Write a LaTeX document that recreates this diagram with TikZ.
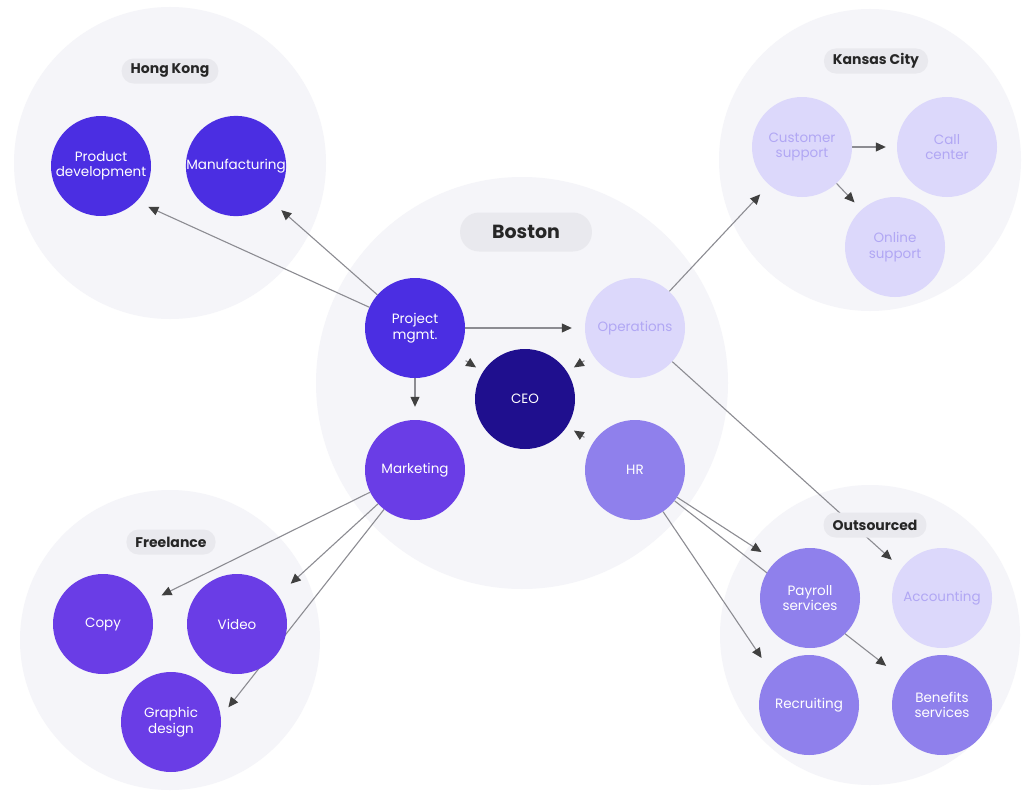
\documentclass[tikz,border=0pt]{standalone}
\usepackage{fontspec}
\setmainfont{Poppins}
\usetikzlibrary{arrows.meta}
\definecolor{royal}{HTML}{4B2EE2}
\definecolor{grape}{HTML}{6A3DE6}
\definecolor{navy}{HTML}{1F0F8E}
\definecolor{lilac}{HTML}{8F80EC}
\definecolor{pale}{HTML}{DCD8FB}
\definecolor{paletext}{HTML}{B1A7F4}
\definecolor{zonefill}{HTML}{F5F5F9}
\definecolor{tagfill}{HTML}{E9E9EE}
\definecolor{linkgray}{HTML}{8C8C92}
\pgfdeclarelayer{zones}
\pgfdeclarelayer{links}
\pgfsetlayers{zones,links,main}
\tikzset{
  unit/.style={circle,minimum size=100pt,inner sep=0pt,align=center,text=white,
    font=\fontsize{13.5}{15.5}\selectfont},
  royalunit/.style={unit,fill=royal},
  grapeunit/.style={unit,fill=grape},
  lilacunit/.style={unit,fill=lilac},
  paleunit/.style={unit,fill=pale,text=paletext},
  zone/.style={circle,fill=zonefill,inner sep=0pt},
  tag/.style={fill=tagfill,rounded corners=12pt,inner xsep=9pt,inner ysep=0pt,
    minimum height=25pt,text=black!85,font=\bfseries\fontsize{14}{16}\selectfont},
  link/.style={draw=linkgray,line width=1.1pt,shorten >=13pt,
    -{Triangle[length=10pt,width=9pt,color=black!75]}},
  stub/.style={link,shorten >=8pt,shorten <=10pt}
}
\begin{document}
\begin{tikzpicture}[x=1pt,y=-1pt]
\useasboundingbox (0,0) rectangle (1024,792);
\begin{pgfonlayer}{zones}
\fill[white] (0,0) rectangle (1024,792);
\node[zone,minimum size=312pt] (hkzone) at (170,163) {};
\node[zone,minimum size=302pt] (kczone) at (870,160) {};
\node[zone,minimum size=412pt] (bozone) at (522,383) {};
\node[zone,minimum size=300pt] (flzone) at (170,640) {};
\node[zone,minimum size=300pt] (oszone) at (870,635) {};
\end{pgfonlayer}
% places
\node[tag] (hktag) at (170,71) {Hong Kong};
\node[tag] (kctag) at (876,61) {Kansas City};
\node[tag,font=\bfseries\fontsize{19}{21}\selectfont,inner xsep=32pt,minimum height=39pt,rounded corners=19pt] (botag) at (526,232) {Boston};
\node[tag] (fltag) at (171,542) {Freelance};
\node[tag] (ostag) at (875,525) {Outsourced};
% units
\node[royalunit] (proddev) at (101,166) {Product\\development};
\node[royalunit] (manuf) at (236,166) {Manufacturing};
\node[paleunit] (custsup) at (802,147) {Customer\\support};
\node[paleunit] (callc) at (947,147) {Call\\center};
\node[paleunit] (online) at (895,247) {Online\\support};
\node[royalunit] (pm) at (415,328) {Project\\mgmt.};
\node[paleunit] (ops) at (635,328) {Operations};
\node[unit,fill=navy] (ceo) at (525,399) {CEO};
\node[grapeunit] (mkt) at (415,470) {Marketing};
\node[lilacunit] (hr) at (635,470) {HR};
\node[grapeunit] (copy) at (103,624) {Copy};
\node[grapeunit] (video) at (237,624) {Video};
\node[grapeunit] (graphic) at (171,722) {Graphic\\design};
\node[lilacunit] (payroll) at (810,598) {Payroll\\services};
\node[paleunit] (acct) at (942,598) {Accounting};
\node[lilacunit] (recruit) at (809,705) {Recruiting};
\node[lilacunit] (benefits) at (942,705) {Benefits\\services};
\begin{pgfonlayer}{links}
\draw[link] (pm) -- (proddev.315);
\draw[link] (pm) -- (manuf.315);
\draw[link] (pm) -- (ops);
\draw[link] (pm) -- (mkt);
\draw[stub] (pm) -- (ceo);
\draw[stub] (ops) -- (ceo);
\draw[stub] (hr) -- (ceo);
\draw[link] (ops) -- (custsup.229);
\draw[link,shorten >=11pt] (custsup) -- (callc);
\draw[link,shorten >=10pt] (custsup) -- (online.132);
\draw[link] (ops) -- (acct.144);
\draw[link,shorten >=17pt] (hr) -- (payroll.133);
\draw[link,shorten >=18pt] (hr) -- (benefits.146);
\draw[link,shorten >=17pt] (hr) -- (recruit.139);
\draw[link,shorten >=15pt] (mkt) -- (copy.26);
\draw[link,shorten >=17pt] (mkt) -- (video.35);
\draw[link,shorten >=12pt] (mkt) -- (graphic.6);
\end{pgfonlayer}
\end{tikzpicture}
\end{document}
